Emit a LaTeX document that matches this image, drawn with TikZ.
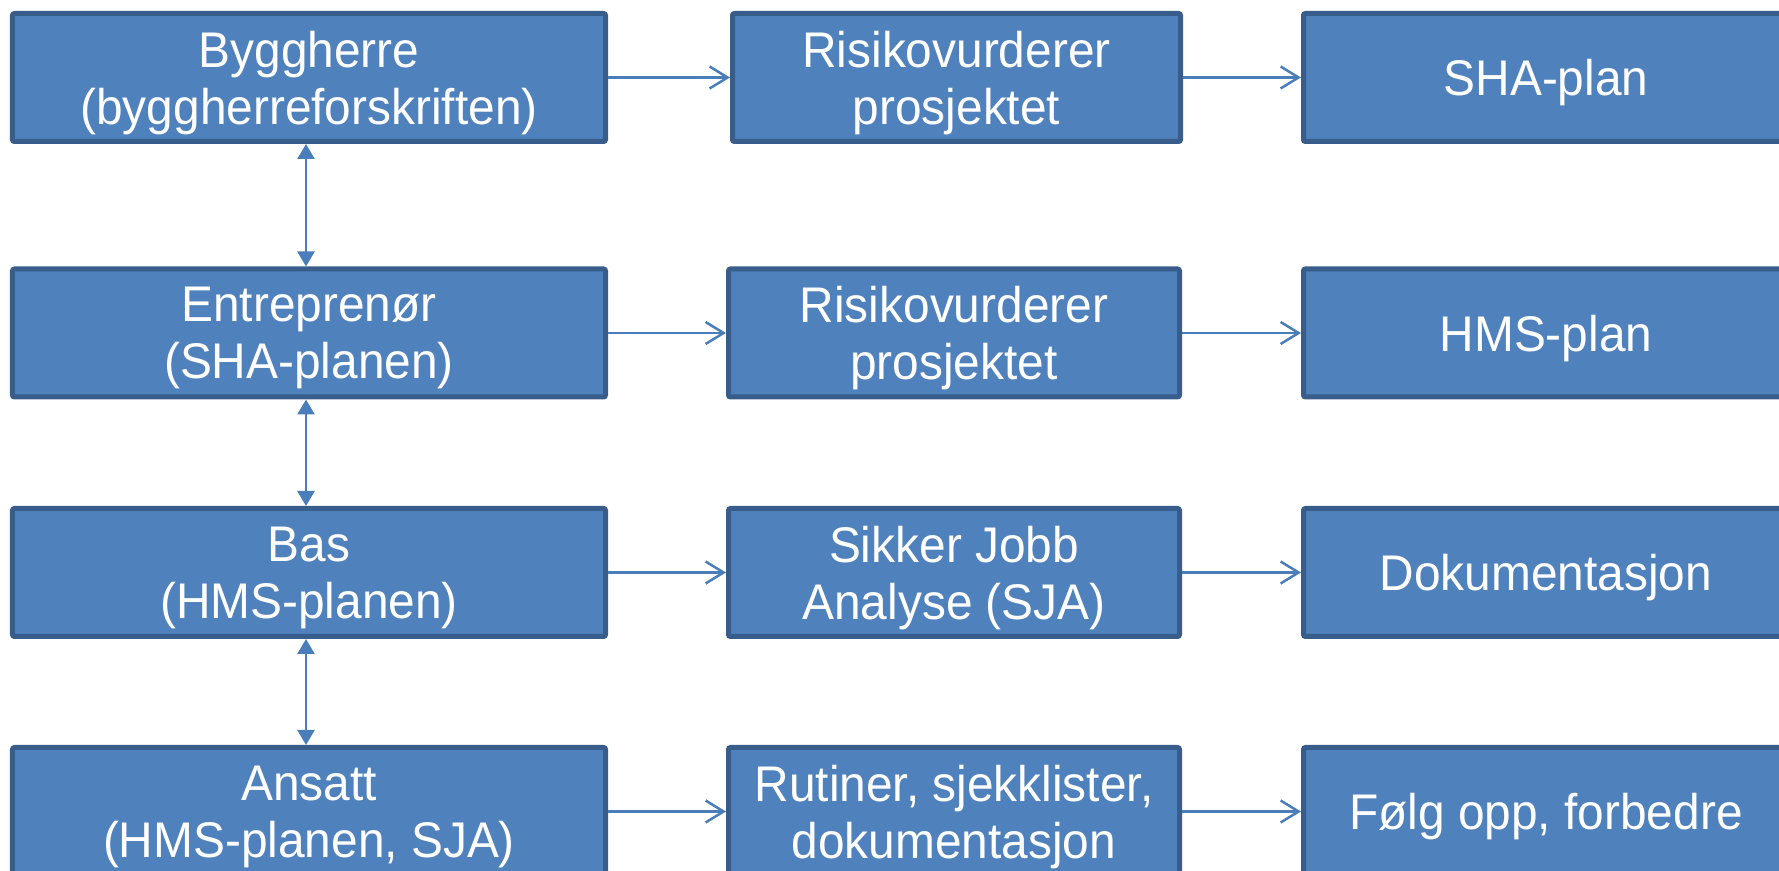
\documentclass[tikz,border=0pt]{standalone}
\usepackage{fontspec}
\setmainfont[FakeStretch=0.955]{Liberation Sans}
\usepackage{tikz}
\usetikzlibrary{arrows.meta}
\definecolor{boxfill}{HTML}{4F81BD}
\definecolor{boxline}{HTML}{385D8A}
\definecolor{arrowline}{HTML}{4A7EBB}

\begin{document}
\begin{tikzpicture}
\tikzstyle{every node}+=[inner sep=0pt]
\tikzstyle{box}=[draw=boxline, fill=boxfill, line width=0.1cm, rounded corners=0.04cm, text=white, align=center, text depth=0pt, minimum height=2.56cm, font=\fontsize{28.5}{32.4}\selectfont]
\tikzstyle{leftbox}=[box, minimum width=11.86cm]
\tikzstyle{midbox}=[box, minimum width=9.02cm]
\tikzstyle{rightbox}=[box, minimum width=9.7cm]
\tikzstyle{harrow}=[draw=arrowline, line width=0.05cm, -{Straight Barb[length=0.36cm, width=0.44cm]}]
\tikzstyle{varrow}=[draw=arrowline, line width=0.05cm, {Triangle[length=0.3cm, width=0.34cm]}-{Triangle[length=0.3cm, width=0.34cm]}]
\useasboundingbox (0,0) rectangle (35.58,-17.42);
% left column
\node [leftbox] (byggherre) at (6.18,-1.55) {Byggherre\\(byggherreforskriften)};
\node [leftbox] (entreprenor) at (6.18,-6.66) {Entrepren\o r\\(SHA-planen)};
\node [leftbox] (bas) at (6.18,-11.45) {Bas\\(HMS-planen)};
\node [leftbox] (ansatt) at (6.18,-16.23) {Ansatt\\(HMS-planen, SJA)};
% middle column
\node [midbox, minimum width=8.96cm] (risiko1) at (19.13,-1.55) {Risikovurderer\\prosjektet};
\node [midbox] (risiko2) at (19.08,-6.66) {Risikovurderer\\prosjektet};
\node [midbox] (sja) at (19.08,-11.45) {Sikker Jobb\\Analyse (SJA)};
\node [midbox] (rutiner) at (19.08,-16.23) {Rutiner, sjekklister,\\dokumentasjon};
% right column
\node [rightbox] (shaplan) at (30.92,-1.55) {SHA-plan};
\node [rightbox] (hmsplan) at (30.92,-6.66) {HMS-plan};
\node [rightbox] (dok) at (30.92,-11.45) {Dokumentasjon};
\node [rightbox] (folgopp) at (30.92,-16.23) {F\o lg opp, forbedre};
% arrows
\draw [harrow] (byggherre) -- (risiko1);
\draw [harrow] (risiko1) -- (shaplan);
\draw [harrow] (entreprenor) -- (risiko2);
\draw [harrow] (risiko2) -- (hmsplan);
\draw [harrow] (bas) -- (sja);
\draw [harrow] (sja) -- (dok);
\draw [harrow] (ansatt) -- (rutiner);
\draw [harrow] (rutiner) -- (folgopp);
\draw [varrow] ([xshift=-0.06cm]byggherre.south) -- ([xshift=-0.06cm]entreprenor.north);
\draw [varrow] ([xshift=-0.06cm]entreprenor.south) -- ([xshift=-0.06cm]bas.north);
\draw [varrow] ([xshift=-0.06cm]bas.south) -- ([xshift=-0.06cm]ansatt.north);
\end{tikzpicture}
\end{document}
